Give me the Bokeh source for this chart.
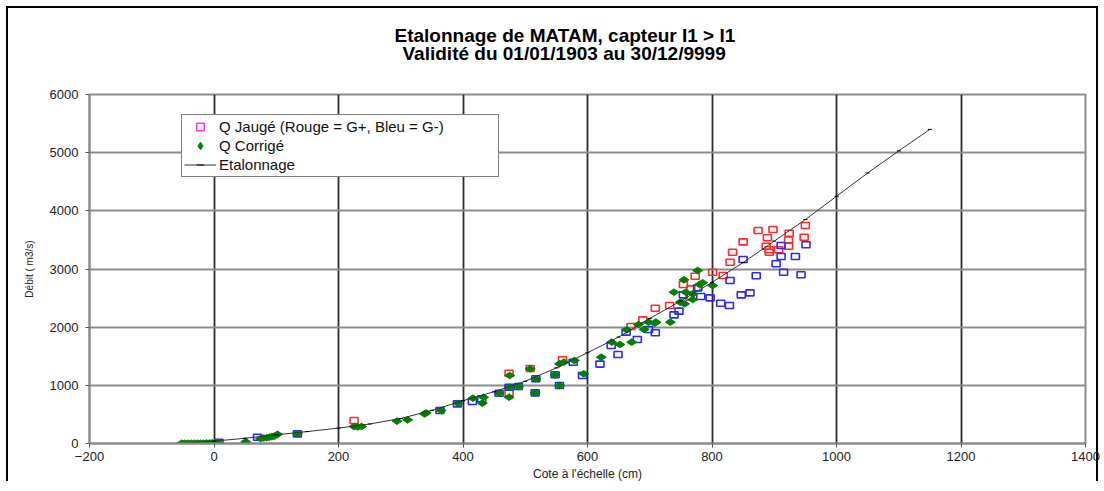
import math
from bokeh.plotting import figure
from bokeh.models import Legend, LegendItem, Title, FixedTicker, Range1d
from bokeh.embed import file_html
from bokeh.resources import INLINE

# ---- Data ----
titre1 = "Etalonnage de MATAM,  capteur I1 > I1"
titre2 = "Validité du 01/01/1903 au 30/12/9999"

x_ticks = [-200, 0, 200, 400, 600, 800, 1000, 1200, 1400]
y_ticks = [0, 1000, 2000, 3000, 4000, 5000, 6000]

# Etalonnage (rating curve)
cote_etal = [-56, 0, 50, 100, 150, 200, 250, 300, 350, 400, 450, 500, 550, 600,
             650, 700, 750, 800, 850, 900, 950, 1000, 1050, 1100, 1150]
debit_etal = [0, 40, 90, 150, 205, 265, 335, 430, 570, 735, 890, 1070, 1300, 1560,
              1830, 2150, 2450, 2770, 3110, 3480, 3850, 4250, 4650, 5030, 5400]

# Q Corrigé (green diamonds)
cote_corr = [-52, -47, -42, -37, -32, -27, -22, -17, -12, -7, -3, 2, 6,
             51, 75, 80, 85, 89, 93, 97, 102, 134,
             225, 231, 237, 294, 311, 338, 341,
             365, 392, 416, 431, 433, 458, 474, 474, 475, 489, 508, 516, 517,
             548, 555, 555, 562, 579, 594, 622, 639, 652, 663, 671, 682, 691,
             698, 710, 708, 733, 739, 749, 756, 755, 758, 769, 769, 777, 780,
             785, 801]
debit_corr = [5, 5, 5, 5, 5, 5, 5, 5, 8, 8, 10, 12, 15,
              30, 85, 95, 100, 110, 118, 126, 158, 166,
              292, 285, 292, 385, 407, 510, 525,
              567, 690, 779, 693, 796, 865, 968, 796, 1169, 980, 1283, 871, 1112,
              1181, 997, 1370, 1398, 1427, 1198, 1484, 1742, 1702, 1954, 1742, 2046, 1960,
              2086, 2086, 2068, 2086, 2601, 2429, 2401, 2814, 2601, 2573, 2475, 2974, 2733,
              2762, 2716]

# Q Jaugé, Rouge = G+
cote_gplus = [225, 474, 474, 508, 560, 670, 689, 709, 732, 754, 765, 766, 773,
              801, 818, 829, 833, 850, 874, 887, 889, 892, 892, 898, 907, 923,
              923, 924, 948, 950]
debit_gplus = [395, 865, 1208, 1290, 1440, 2011, 2126, 2326, 2372, 2733, 2515, 2659, 2876,
               2945, 2888, 3117, 3289, 3467, 3662, 3392, 3536, 3330, 3289, 3679, 3330, 3501,
               3392, 3615, 3547, 3748]

# Q Jaugé, Bleu = G-
cote_gmoins = [8, 70, 134, 363, 391, 415, 430, 458, 474, 489, 516, 517, 548, 555,
               577, 592, 620, 638, 649, 662, 680, 698, 709, 739, 747, 754, 777,
               782, 797, 814, 828, 829, 847, 850, 861, 871, 903, 911, 911, 915,
               934, 943, 951]
debit_gmoins = [22, 108, 166, 567, 682, 722, 768, 865, 968, 980, 871, 1112, 1181, 997,
                1398, 1169, 1365, 1685, 1530, 1914, 1788, 1960, 1903, 2212, 2275, 2556, 2676,
                2527, 2504, 2412, 2372, 2802, 2556, 3163, 2590, 2883, 3089, 3404, 3215, 2945,
                3215, 2900, 3416]

FONT = "Liberation Sans"

p = figure(width=1104, height=491, output_backend="svg", toolbar_location=None,
           x_range=Range1d(-200, 1400), y_range=Range1d(0, 6000),
           min_border_left=89, min_border_right=19, min_border_top=94, min_border_bottom=48,
           background_fill_color="white", border_fill_color="white", border_fill_alpha=0)
p.styles = {"outline": "2px solid black", "outline-offset": "-8px",
            "clip-path": "inset(0px 0px 10px 0px)", "background-color": "white"}

# Titles (first added is closest to the frame)
spacer = Title(text=".", text_font=FONT, text_font_size="10px", text_color="white",
               standoff=21)
t2 = Title(text=titre2, align="left", offset=313, text_font=FONT, text_font_size="19px",
           text_font_style="bold", text_color="black", standoff=0)
t1 = Title(text=titre1, align="left", offset=305, text_font=FONT, text_font_size="19px",
           text_font_style="bold", text_color="black", standoff=-10)
p.add_layout(spacer, "above")
p.add_layout(t2, "above")
p.add_layout(t1, "above")

# Axes
p.xaxis.ticker = FixedTicker(ticks=x_ticks)
p.yaxis.ticker = FixedTicker(ticks=y_ticks)
for ax in (p.xaxis[0], p.yaxis[0]):
    ax.axis_line_color = "#8c8c8c"
    ax.axis_line_width = 2
    ax.major_tick_line_color = "#555555"
    ax.major_tick_in = 0
    ax.major_tick_out = 4
    ax.minor_tick_line_color = None
    ax.major_label_text_font = FONT
    ax.major_label_text_font_size = "13px"
    ax.major_label_text_color = "#222222"
    ax.axis_label_text_font = FONT
    ax.axis_label_text_font_style = "normal"
    ax.axis_label_text_color = "#222222"
p.xaxis.axis_label = "Cote à l'échelle (cm)"
p.yaxis.axis_label = "Débit ( m3/s)"
p.xaxis.axis_label_text_font_size = "12px"
p.yaxis.axis_label_text_font_size = "10px"
p.xaxis.major_label_standoff = 4
p.xaxis.axis_label_standoff = 3
p.yaxis.major_label_standoff = 7
p.yaxis.axis_label_standoff = 12

# Grids
p.xgrid.ticker = FixedTicker(ticks=[0, 200, 400, 600, 800, 1000, 1200])
p.xgrid.grid_line_color = "#2b2b2b"
p.xgrid.grid_line_width = 1.8
p.ygrid.ticker = FixedTicker(ticks=[1000, 2000, 3000, 4000, 5000])
p.ygrid.grid_line_color = "#8c8c8c"
p.ygrid.grid_line_width = 2
p.outline_line_color = "#8c8c8c"
p.outline_line_width = 2

# Q Jaugé rectangles
r_red = p.rect(cote_gplus, debit_gplus, width=8, height=6, width_units="screen",
               height_units="screen", fill_color=None, line_color="#ff2a2a", line_width=1.6)
r_blue = p.rect(cote_gmoins, debit_gmoins, width=8, height=6, width_units="screen",
                height_units="screen", fill_color=None, line_color="#2a2aff", line_width=1.6)
r_leg = p.scatter([float("nan")], [float("nan")], marker="square", size=6, fill_color=None,
                  line_color="#ff30ff", line_width=1.6)

# Q Corrigé diamonds (wide)
r_green = p.scatter(cote_corr, debit_corr, marker="diamond", size=10, angle=math.pi / 2,
                    fill_color="#008000", line_color="#008000")

# Etalonnage
r_line = p.line(cote_etal, debit_etal, line_color="#333333", line_width=1)
r_marks = p.scatter(cote_etal, debit_etal, marker="dash", size=4, line_color="black",
                    line_width=1)

legend = Legend(items=[
    LegendItem(label="Q Jaugé (Rouge = G+, Bleu = G-)", renderers=[r_leg]),
    LegendItem(label="Q Corrigé", renderers=[r_green]),
    LegendItem(label="Etalonnage", renderers=[r_line, r_marks]),
], location=(92, 266))
legend.label_text_font = FONT
legend.label_text_font_size = "15px"
legend.label_text_color = "#111111"
legend.border_line_color = "black"
legend.border_line_width = 1
legend.background_fill_color = "white"
legend.background_fill_alpha = 1
legend.padding = 2
legend.spacing = 0
legend.margin = 0
legend.label_height = 19
legend.glyph_height = 19
legend.glyph_width = 32
legend.label_standoff = 3
legend.label_width = 277
p.add_layout(legend)

open("out.html", "w").write(file_html(p, INLINE))
